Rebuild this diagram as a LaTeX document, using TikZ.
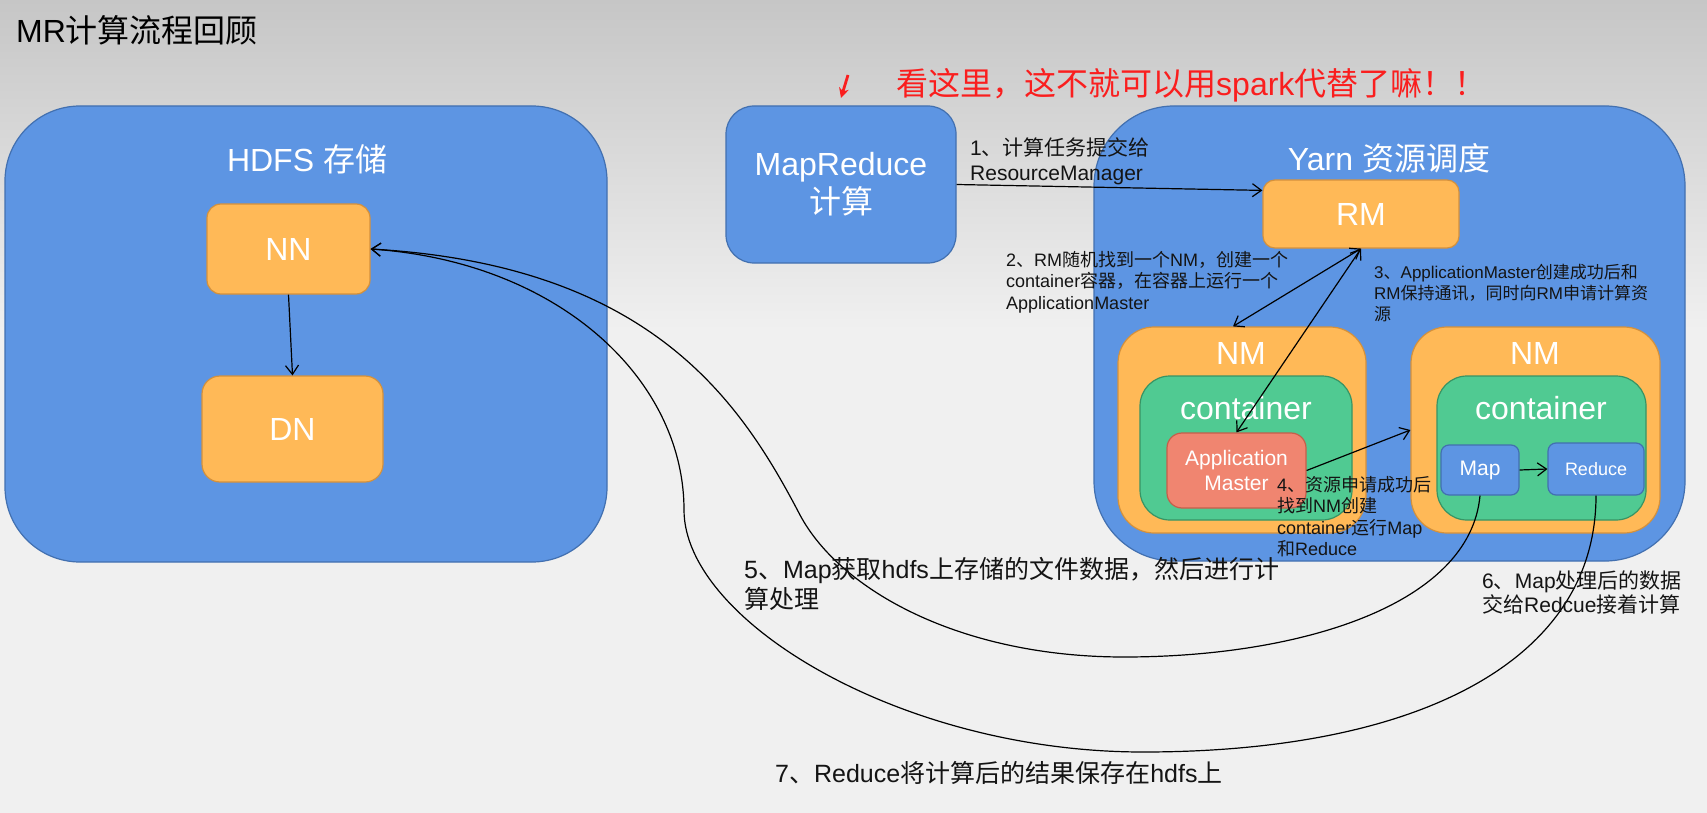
\documentclass[tikz,border=0pt]{standalone}
\usepackage{fontspec}
\setmainfont{Liberation Sans}
\newfontfamily\cjk{Noto Sans CJK SC}
\usetikzlibrary{arrows.meta}
\newcommand{\zh}[1]{{\cjk #1}}
\newcommand{\setfs}[2]{\fontsize{#1}{#2}\selectfont}
\definecolor{bgtop}{RGB}{198,198,198}
\definecolor{bgbot}{RGB}{240,240,240}
\definecolor{bluef}{RGB}{93,149,227}
\definecolor{blued}{RGB}{66,112,176}
\definecolor{orf}{RGB}{255,185,87}
\definecolor{ord}{RGB}{212,145,60}
\definecolor{grf}{RGB}{80,202,146}
\definecolor{grd}{RGB}{56,148,100}
\definecolor{saf}{RGB}{240,133,112}
\definecolor{sad}{RGB}{198,94,74}
\definecolor{redtxt}{RGB}{250,30,30}
\definecolor{txt}{RGB}{20,20,20}
\begin{document}
\begin{tikzpicture}[x=1pt,y=-1pt,
  bluebox/.style={draw=blued, fill=bluef, line width=1.2pt},
  orbox/.style={draw=ord, fill=orf, line width=1.2pt, text=white, font=\setfs{32}{38}},
  grbox/.style={draw=grd, fill=grf, line width=1.2pt},
  sabox/.style={draw=sad, fill=saf, line width=1.2pt, text=white},
  smbox/.style={draw=blued, fill=bluef, line width=1.2pt, text=white},
  wt/.style={text=white, font=\setfs{32}{38}, inner sep=0pt},
  lbl/.style={text=txt, anchor=north west, align=left, inner sep=0pt},
  conn/.style={draw=black, line width=1.2pt, -{Straight Barb[length=9pt,width=13pt]}},
  conn2/.style={draw=black, line width=1.2pt, {Straight Barb[length=9pt,width=13pt]}-{Straight Barb[length=9pt,width=13pt]}}
]
\useasboundingbox (0,0) rectangle (1707,813);
\shade[top color=bgtop, bottom color=bgbot] (0,0) rectangle (1707,330);
\fill[bgbot] (0,329) rectangle (1707,813);

% title and note
\node[anchor=west, text=black, font=\setfs{32}{38}, inner sep=0pt] (title) at (16,30) {MR\zh{计算流程回顾}};
\node[anchor=west, text=redtxt, font=\setfs{32}{38}, inner sep=0pt] (note) at (896,85) {\zh{看这里，这不就可以用}spark\zh{代替了嘛！！}};
\coordinate (ra1) at (848,75);
\coordinate (ra2) at (841,98);
\draw[redtxt, line width=2.8pt, -{Stealth[length=10pt,width=10pt]}] (ra1) -- (ra2);

% big boxes
\node[bluebox, rounded corners=75pt, minimum width=602pt, minimum height=456pt] (hdfs) at (306,334) {};
\node[bluebox, rounded corners=28pt, minimum width=230pt, minimum height=157pt, text=white, font=\setfs{32}{38}, align=center] (mr) at (841,184.5) {MapReduce\\\zh{计算}};
\node[bluebox, rounded corners=80pt, minimum width=591pt, minimum height=455pt] (yarn) at (1389.5,333.5) {};

\node[wt] (hdfsT) at (307,159) {HDFS \zh{存储}};
\node[wt] (yarnT) at (1389,158) {Yarn \zh{资源调度}};

% HDFS inner
\node[orbox, rounded corners=14pt, minimum width=163pt, minimum height=90pt] (nn) at (288.5,249) {NN};
\node[orbox, rounded corners=18pt, minimum width=181pt, minimum height=106pt] (dn) at (292.5,429) {DN};

% Yarn inner
\node[orbox, rounded corners=12pt, minimum width=196pt, minimum height=68pt] (rm) at (1361,214) {RM};
\node[orbox, rounded corners=36pt, minimum width=248pt, minimum height=206pt] (nm1) at (1242,430) {};
\node[orbox, rounded corners=36pt, minimum width=249pt, minimum height=206pt] (nm2) at (1535.5,430) {};
\node[wt] (nm1T) at (1241,353) {NM};
\node[wt] (nm2T) at (1535,353) {NM};
\node[grbox, rounded corners=30pt, minimum width=212pt, minimum height=144pt] (c1) at (1246,448) {};
\node[grbox, rounded corners=30pt, minimum width=209pt, minimum height=144pt] (c2) at (1541.5,448) {};
\node[wt] (c1T) at (1246,408) {container};
\node[wt] (c2T) at (1541,408) {container};
\node[sabox, rounded corners=15pt, minimum width=139pt, minimum height=75pt, font=\setfs{21}{25}, align=center] (am) at (1236.5,470.5) {Application\\Master};
\node[smbox, rounded corners=8pt, minimum width=78pt, minimum height=50pt, font=\setfs{21}{25}] (map) at (1480,470) {Map};
\node[smbox, rounded corners=8pt, minimum width=96pt, minimum height=52pt, font=\setfs{18}{22}] (rd) at (1596,469) {Reduce};

% connectors
\draw[conn] (nn.south) -- (dn.north);
\draw[conn] (mr.east) -- ([yshift=-11pt]rm.north west);
\draw[conn2] (rm.south) -- ([xshift=-9pt]nm1.north);
\draw[conn2] (rm.south) -- (am.north);
\draw[conn] (am.east) -- (nm2.west);
\draw[conn] (map.east) -- (rd.west);
\draw[conn] (map.south) .. controls (1470,605) and (1300,657) .. (1124,657)
  .. controls (960,657) and (840,590) .. (800,515)
  .. controls (740,400) and (650,265) .. (nn.east);
\draw[conn] (rd.south) .. controls (1596,660) and (1420,752) .. (1143,752)
  .. controls (900,752) and (684,620) .. (684,510)
  .. controls (684,380) and (560,262) .. (nn.east);

% labels
\node[lbl, font=\setfs{21}{25}] (l1) at (970,137.5) {1\zh{、计算任务提交给}\\ResourceManager};
\node[lbl, font=\setfs{18}{21.5}] (l2) at (1006,251) {2\zh{、}RM\zh{随机找到一个}NM\zh{，创建一个}\\container\zh{容器，在容器上运行一个}\\ApplicationMaster};
\node[lbl, font=\setfs{17}{21}] (l3) at (1374,264.5) {3\zh{、}ApplicationMaster\zh{创建成功后和}\\RM\zh{保持通讯，同时向}RM\zh{申请计算资}\\\zh{源}};
\node[lbl, font=\setfs{18}{21.5}] (l4) at (1277,476) {4\zh{、资源申请成功后}\\\zh{找到}NM\zh{创建}\\container\zh{运行}Map\\\zh{和}Reduce};
\node[lbl, font=\setfs{25}{30}] (l5) at (744,557.5) {5\zh{、}Map\zh{获取}hdfs\zh{上存储的文件数据，然后进行计}\\\zh{算处理}};
\node[lbl, font=\setfs{21}{24}] (l6) at (1482,570.5) {6\zh{、}Map\zh{处理后的数据}\\\zh{交给}Redcue\zh{接着计算}};
\node[lbl, anchor=west, font=\setfs{25}{30}] (l7) at (775,773) {7\zh{、}Reduce\zh{将计算后的结果保存在}hdfs\zh{上}};
\end{tikzpicture}
\end{document}
